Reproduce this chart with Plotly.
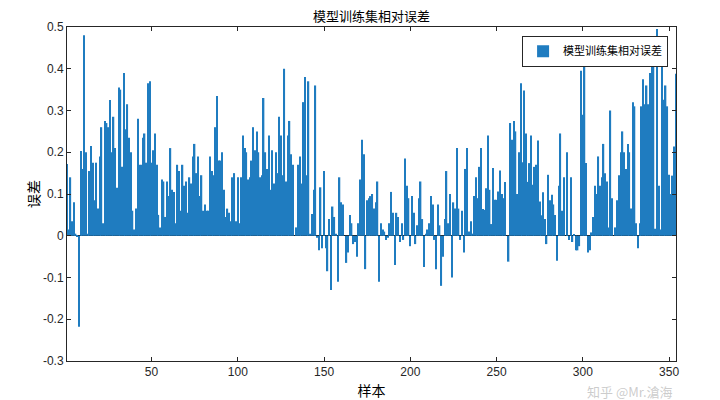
import plotly.graph_objects as go

series_name = "模型训练集相对误差"
title_text = "模型训练集相对误差"
x_label = "样本"
y_label = "误差"

errors_1_57 = [
    0.172, 0.015, 0.14, 0.035, 0.08, 0.005, -0.003, -0.218, 0.203, 0.16,
    0.48, 0.2, 0.005, 0.155, 0.215, 0.175, 0.085, 0.175, 0.065, 0.19,
    0.26, 0.03, 0.275, 0.27, 0.26, 0.325, 0.2, 0.285, 0.21, 0.115,
    0.355, 0.35, 0.165, 0.39, 0.255, 0.315, 0.235, 0.2, 0.06, 0.015,
    0.065, 0.28, 0.17, 0.17, 0.235, 0.245, 0.175, 0.365, 0.37, 0.175,
    0.205, 0.245, 0.17, 0.05, 0.02, 0.135, 0.13,
]
errors_58_122 = [
    0.045, 0.13, 0.095, 0.21, 0.11, 0.105, 0.03, 0.17, 0.155, 0.06,
    0.17, 0.12, 0.13, 0.055, 0.14, 0.125, 0.19, 0.22, 0.15, 0.19,
    0.095, 0.145, 0.06, 0.075, 0.06, 0.06, 0.19, 0.155, 0.145, 0.26,
    0.335, 0.18, 0.18, 0.2, 0.11, 0.045, 0.065, 0.055, 0.035, 0.14,
    0.15, 0.035, 0.14, 0.03, 0.14, 0.24, 0.21, 0.2, 0.135, 0.14,
    0.18, 0.26, 0.205, 0.25, 0.2, 0.14, 0.145, 0.33, 0.2, 0.16,
    0.24, 0.11, 0.205, 0.125, 0.2,
]
errors_123_154 = [
    0.15, 0.285, 0.24, 0.145, 0.4, 0.13, 0.24, 0.275, 0.195, 0.17,
    0.0, 0.02, 0.17, 0.19, 0.125, 0.32, 0.38, 0.145, 0.37, 0.005,
    0.052, 0.11, 0.36, -0.005, -0.035, 0.116, -0.03, 0.155, -0.03, -0.085,
    0.04, -0.13,
]
errors_155_182 = [
    0.07, 0.045, 0.005, -0.11, 0.14, 0.08, 0.075, 0.0, -0.065, -0.04,
    0.05, 0.03, -0.02, -0.015, -0.05, 0.03, 0.135, 0.23, 0.195, -0.08,
    0.085, 0.09, 0.095, 0.1, 0.065, 0.08, 0.13, -0.11,
]
errors_183_241 = [
    0.03, 0.015, 0.01, -0.01, -0.005, 0.03, 0.105, 0.055, -0.07, 0.055,
    0.045, -0.015, 0.03, -0.01, 0.185, 0.12, 0.09, -0.025, 0.095, 0.055,
    -0.02, 0.025, 0.09, 0.13, 0.04, -0.075, 0.005, 0.015, 0.03, 0.095,
    0.075, -0.01, -0.08, 0.075, 0.025, -0.12, -0.05, 0.04, 0.155, 0.03,
    0.1, -0.1, 0.08, 0.065, 0.21, 0.065, -0.01, 0.06, -0.04, 0.16,
    0.21, 0.01, 0.035, 0.005, 0.095, 0.14, 0.09, 0.165, 0.21,
]
errors_242_280 = [
    0.064, 0.062, 0.114, 0.24, 0.11, 0.028, 0.162, 0.086, 0.086, 0.106,
    0.156, 0.1, 0.09, 0.129, 0.0, -0.062, 0.27, 0.23, 0.275, 0.25,
    0.1, 0.2, 0.365, 0.176, 0.348, 0.245, 0.129, 0.174, 0.24, 0.122,
    0.165, 0.17, 0.228, 0.082, 0.049, 0.104, 0.04, -0.02, 0.146,
]
errors_281_316 = [
    0.085, 0.098, 0.075, 0.05, -0.06, 0.12, 0.245, 0.06, 0.14, 0.0,
    0.2, -0.01, 0.14, -0.015, 0.003, -0.035, -0.035, -0.025, 0.395, 0.29,
    0.44, 0.174, -0.04, -0.035, 0.008, 0.045, 0.12, 0.1, 0.19, 0.12,
    0.14, 0.22, 0.15, 0.13, 0.02, 0.3,
]
errors_317_354 = [
    0.09, 0.0, 0.02, 0.085, 0.145, 0.2, 0.25, 0.2, 0.16, 0.22,
    0.2, 0.065, 0.32, 0.31, 0.03, -0.03, 0.03, 0.31, 0.375, 0.315,
    0.36, 0.315, 0.39, 0.405, 0.44, 0.017, 0.495, 0.12, 0.015, 0.42,
    0.326, 0.36, 0.31, 0.146, 0.1, 0.144, 0.214, 0.388,
]

errors = (errors_1_57 + errors_58_122 + errors_123_154 + errors_155_182
          + errors_183_241 + errors_242_280 + errors_281_316 + errors_317_354)
samples = list(range(1, len(errors) + 1))

x_tick_values = [50, 100, 150, 200, 250, 300, 350]
x_tick_labels = ["50", "100", "150", "200", "250", "300", "350"]
y_tick_values = [-0.3, -0.2, -0.1, 0, 0.1, 0.2, 0.3, 0.4, 0.5]
y_tick_labels = ["-0.3", "-0.2", "-0.1", "0", "0.1", "0.2", "0.3", "0.4", "0.5"]

axis_color = "#262626"
cjk = "Noto Sans CJK SC"
latin = "Liberation Sans, Arial, sans-serif"

# page body adds an 8px offset, so the figure is sized to fill the rest of the window
W, H = 712, 392

fig = go.Figure()
fig.add_trace(go.Bar(
    x=samples, y=errors, name=series_name,
    marker=dict(color="#1f7cc0", line=dict(width=0)),
    showlegend=True,
))

fig.update_layout(
    width=W, height=H,
    margin=dict(l=59, r=44, t=19, b=39, autoexpand=False),
    paper_bgcolor="white", plot_bgcolor="white",
    bargap=0.2,
    title=dict(text=title_text, x=363.5 / W, xanchor="center",
               y=1, yref="container", yanchor="top", pad=dict(t=4, b=0, l=0, r=0),
               font=dict(family=cjk, size=13, color="#000000")),
    legend=dict(x=0.987, y=0.974, xanchor="right", yanchor="top",
                bgcolor="white", bordercolor=axis_color, borderwidth=1,
                font=dict(family=cjk, size=11, color="#000000"),
                itemwidth=30, tracegroupgap=0),
    xaxis=dict(range=[1, 354], tickvals=x_tick_values, ticktext=x_tick_labels,
               ticks="inside", ticklen=4, tickwidth=1, tickcolor=axis_color,
               showline=True, linecolor=axis_color, linewidth=1, mirror="ticks",
               showgrid=False, zeroline=False, automargin=False,
               tickfont=dict(family=latin, size=12, color=axis_color),
               title=dict(text=x_label, standoff=13,
                          font=dict(family=cjk, size=14, color="#000000"))),
    yaxis=dict(range=[-0.3, 0.5], tickvals=y_tick_values, ticktext=y_tick_labels,
               ticks="inside", ticklen=4, tickwidth=1, tickcolor=axis_color,
               showline=True, linecolor=axis_color, linewidth=1, mirror="ticks",
               showgrid=False, zeroline=True, zerolinecolor="#1a1a1a", zerolinewidth=1,
               automargin=False,
               tickfont=dict(family=latin, size=12, color=axis_color),
               title=dict(text=y_label, standoff=0,
                          font=dict(family=cjk, size=14, color="#000000"))),
)

fig.add_annotation(text="知乎 @Mr.滄海", xref="paper", yref="paper",
                   x=0.925, y=-0.091, xanchor="center", yanchor="middle",
                   showarrow=False,
                   font=dict(family=cjk, size=13, color="rgba(170,170,170,0.6)"))

fig.write_html("out.html")
